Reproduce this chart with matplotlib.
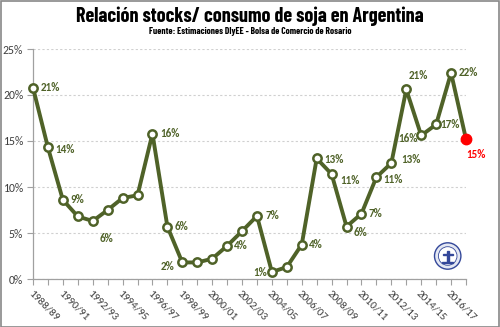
import matplotlib
matplotlib.use("Agg")
import matplotlib.pyplot as plt
from matplotlib.patches import Rectangle, Circle
from matplotlib.ticker import FuncFormatter

# Campaigns and stock/consumption ratio (%)
seasons = ["1988/89", "1989/90", "1990/91", "1991/92", "1992/93", "1993/94",
           "1994/95", "1995/96", "1996/97", "1997/98", "1998/99", "1999/00",
           "2000/01", "2001/02", "2002/03", "2003/04", "2004/05", "2005/06",
           "2006/07", "2007/08", "2008/09", "2009/10", "2010/11", "2011/12",
           "2012/13", "2013/14", "2014/15", "2015/16", "2016/17", "2017/18"]
ratio = [20.8, 14.3, 8.6, 6.8, 6.3, 7.5, 8.8, 9.1, 15.8, 5.7,
         1.8, 1.8, 2.2, 3.6, 5.2, 6.85, 0.76, 1.3, 3.75, 13.1,
         11.4, 5.7, 7.1, 11.07, 12.6, 20.6, 15.6, 16.8, 22.4, 15.2]

# which points get a value label, and where (pixel offset from the point)
label_offsets = {0: (17, 0), 1: (17, -2), 2: (14, 0), 4: (14, -17),
                 8: (18, 0), 9: (14, 0), 10: (-15, -4), 13: (14, 0),
                 15: (15, 0), 16: (-12, 0), 18: (14, 0), 19: (17, -1),
                 20: (18, -6), 21: (14, -6), 22: (14, 0), 23: (17, -2),
                 24: (20, 4), 25: (12, 14), 26: (-13, -3), 27: (14, 0),
                 28: (17, 0), 29: (10, -15)}

green = "#4F6228"
red = "#FF0000"
label_font = ["Carlito", "Lato", "DejaVu Sans"]
title_font = ["Barlow Condensed", "Archivo Narrow", "DejaVu Sans"]
W, H = 500, 327

fig = plt.figure(figsize=(5.0, 3.27), dpi=100)
fig.patch.set_facecolor("white")
fig.patches.append(Rectangle((0.001, 0.001), 0.997, 0.996, transform=fig.transFigure,
                             fill=False, edgecolor="#888888", linewidth=1.2))

ax = fig.add_axes([33 / W, 1 - 279 / H, 433 / W, 230 / H])
x = list(range(len(ratio)))

ax.plot(x[:-1], ratio[:-1], color=green, linewidth=2.8, marker="o", markersize=6,
        markerfacecolor="white", markeredgecolor=green, markeredgewidth=1.8,
        zorder=3, clip_on=False)
ax.plot(x[-2:], ratio[-2:], color=green, linewidth=2.8, zorder=2, clip_on=False)
ax.plot(x[-1], ratio[-1], "o", color=red, markersize=7.5, zorder=4, clip_on=False)

for i, (dx, dy) in label_offsets.items():
    c = red if i == len(ratio) - 1 else green
    ax.annotate(f"{ratio[i]:.0f}%", (x[i], ratio[i]), xytext=(dx, dy),
                textcoords="offset pixels", ha="center", va="center",
                fontsize=8, fontweight="bold", color=c, family=label_font)

ax.set_xlim(0, len(ratio) - 1)
ax.set_ylim(0, 25)
ax.set_yticks([0, 5, 10, 15, 20, 25])
ax.yaxis.set_major_formatter(FuncFormatter(lambda v, p: f"{v:.0f}%"))
ax.grid(axis="y", color="#D0D0D0", linestyle=(0, (2, 2)), linewidth=0.8)
ax.set_axisbelow(True)

ax.set_xticks(x)
ax.set_xticklabels([s if i % 2 == 0 else "" for i, s in enumerate(seasons)],
                   rotation=-45, ha="left", va="top", rotation_mode="anchor")
for lab in ax.get_xticklabels():
    lab.set_family(label_font)
    lab.set_fontsize(8)
    lab.set_color("#404040")
for lab in ax.get_yticklabels():
    lab.set_family(label_font)
    lab.set_fontsize(8.5)
    lab.set_color("#404040")

ax.tick_params(axis="x", length=4, width=0.8, color="#A0A0A0", direction="out", pad=3)
ax.tick_params(axis="y", length=4, width=0.8, color="#A0A0A0", direction="out", pad=3)
for side in ["top", "right"]:
    ax.spines[side].set_visible(False)
for side in ["left", "bottom"]:
    ax.spines[side].set_color("#A0A0A0")
    ax.spines[side].set_linewidth(0.9)

fig.text(0.5, 1 - 16 / H, "Relación stocks/ consumo de soja en Argentina",
         ha="center", va="center", fontsize=14.5, fontweight="bold",
         family=title_font, color="black")
fig.text(0.5, 1 - 32 / H, "Fuente: Estimaciones DIyEE - Bolsa de Comercio de Rosario",
         ha="center", va="center", fontsize=6.8, fontweight="bold",
         family=title_font, color="black")

# small seal in the lower right corner
lax = fig.add_axes([(447.7 - 15) / W, 1 - (256 + 15) / H, 30 / W, 30 / H])
lax.set_xlim(-1, 1)
lax.set_ylim(-1, 1)
lax.set_aspect("equal")
lax.axis("off")
navy = "#34489A"
lax.add_patch(Circle((0, 0), 0.88, facecolor="#E4E8F3", edgecolor=navy, linewidth=1.0))
lax.add_patch(Circle((0, 0), 0.62, facecolor="white", edgecolor=navy, linewidth=0.6))
lax.add_patch(Rectangle((-0.07, -0.4), 0.14, 0.75, color=navy))
lax.add_patch(Rectangle((-0.38, -0.46), 0.76, 0.08, color=navy))
lax.add_patch(Rectangle((-0.34, 0.05), 0.68, 0.07, color=navy))

fig.savefig("out.png", dpi=100)
